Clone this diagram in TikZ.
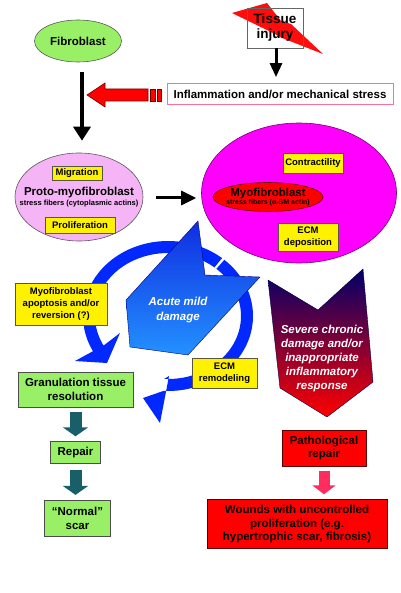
\documentclass[tikz,border=0pt]{standalone}
\usepackage{fontspec}
\setmainfont{Liberation Sans}
\usepackage{tikz}
\usetikzlibrary{arrows,arrows.meta,%
                shapes,positioning}
\definecolor{fibgreen}{RGB}{153,240,102}
\definecolor{protopink}{RGB}{245,180,245}
\definecolor{myomagenta}{RGB}{255,0,255}
\definecolor{infpink}{RGB}{255,110,150}
\definecolor{ringblue}{RGB}{0,40,255}
\definecolor{darkteal}{RGB}{25,95,105}
\definecolor{arrowpink}{RGB}{255,45,95}
\definecolor{navy}{RGB}{0,0,105}
\definecolor{plum}{RGB}{165,10,115}

\begin{document}
\begin{tikzpicture}[x = 1pt, y = -1pt]
  \useasboundingbox (0,0) rectangle (400,593);
  \tikzset{CellStyle/.style   = {shape          = ellipse,
                                 draw           = gray!70!black,
                                 line width     = 0.6pt,
                                 inner sep      = 0pt}}
  \tikzset{BoxStyle/.style    = {shape          = rectangle,
                                 draw           = gray!60!black,
                                 line width     = 0.6pt,
                                 inner sep      = 0pt,
                                 align          = center,
                                 font           = \fontsize{11.5}{13.5}\selectfont\bfseries}}
  \tikzset{YellowStyle/.style = {BoxStyle,
                                 fill           = yellow,
                                 draw           = yellow!25!black,
                                 font           = \fontsize{9.5}{11.7}\selectfont\bfseries}}
  \tikzset{GreenStyle/.style  = {BoxStyle,
                                 fill           = fibgreen}}
  \tikzset{RedStyle/.style    = {BoxStyle,
                                 fill           = red,
                                 draw           = red!35!black}}
  \tikzset{TextStyle/.style   = {align          = center,
                                 inner sep      = 0pt,
                                 font           = \fontsize{11.5}{13.5}\selectfont\bfseries}}
  \tikzset{ArrowStyle/.style  = {line width     = 3.5pt,
                                 -{Triangle[length=14pt, width=17pt]}}}
  \tikzset{BlockStyle/.style  = {line width     = 12pt,
                                 -{Triangle[length=9pt, width=25pt]}}}
  \tikzset{StripeStyle/.style = {fill           = red,
                                 draw           = red!45!black,
                                 line width     = 0.6pt}}
  % top: injury and stress
     \fill[red!95!white] (232,13) -- (267,3) -- (281,21) -- (291,24) -- (323,54)
                         -- (282,38) -- (273,33) -- cycle;
     \node[draw = gray!80!black, line width = 0.8pt, minimum width = 56pt,
           minimum height = 40pt, inner sep = 0pt, align = center,
           font = \fontsize{13.5}{15}\selectfont\bfseries] (injury) at (275,28) {Tissue\\injury};
     \node[BoxStyle, draw = infpink, line width = 0.8pt, minimum width = 226pt,
           minimum height = 21pt] (infl) at (280,94) {Inflammation and/or mechanical stress};
     \node[CellStyle, fill = fibgreen, minimum width = 87pt, minimum height = 42pt,
           font = \fontsize{11.5}{13.5}\selectfont\bfseries] (fib) at (78,41) {Fibroblast};
  % proto-myofibroblast
     \node[CellStyle, fill = protopink, minimum width = 128pt, minimum height = 88pt] (proto) at (79,197) {};
     \node[TextStyle] (protolbl) at (proto.center)
          {Proto-myofibroblast\\[-3.5pt]{\fontsize{7.5}{8}\selectfont stress fibers (cytoplasmic actins)}};
     \node[YellowStyle, minimum width = 50pt, minimum height = 14pt] (migr) at (77,173.5) {Migration};
     \node[YellowStyle, minimum width = 70pt, minimum height = 16pt] (prolif) at (80,225) {Proliferation};
  % myofibroblast
     \node[CellStyle, fill = myomagenta, draw = myomagenta!45!black, minimum width = 195pt,
           minimum height = 140pt] (myo) at (299,193) {};
     \node[CellStyle, fill = red, draw = red!40!black, minimum width = 110pt,
           minimum height = 29pt] (myoin) at (268,197) {};
     \node[TextStyle] (myolbl) at (myoin.center)
          {Myofibroblast\\[-5pt]{\fontsize{7}{7.5}\selectfont stress fibers (α-SM actin)}};
     \node[YellowStyle, minimum width = 60pt, minimum height = 20pt] (contr) at (313,163) {Contractility};
     \node[YellowStyle, minimum width = 60pt, minimum height = 28pt] (ecmdep) at (308,237) {ECM\\deposition};
  % ring round the acute damage
     \coordinate (ringc) at (168,316);
     \fill[ringblue] (ringc) ++(-50.5:85 and 75)
          arc[start angle = -50.5, end angle = -208, x radius = 85, y radius = 75]
          -- (75,361) -- (107,363) -- (120,333)
          -- ([shift = {(-208:73 and 63)}]ringc)
          arc[start angle = -208, end angle = -50.5, x radius = 73, y radius = 63] -- cycle;
     \fill[ringblue] (ringc) ++(-48.5:85 and 75)
          arc[start angle = -48.5, end angle = 93, x radius = 85, y radius = 75]
          -- (143,398) -- (160,423) -- (169,376)
          -- ([shift = {(93:73 and 63)}]ringc)
          arc[start angle = 93, end angle = -48.5, x radius = 73, y radius = 63] -- cycle;
     \draw[top color = {rgb,255:red,15;green,45;blue,225}, bottom color = {rgb,255:red,35;green,145;blue,255},
           draw = blue!50!black, line width = 0.4pt]
          (198,221) -- (205,275) -- (260,277) -- (188,355) -- (130,347) -- (126,300) -- cycle;
     \node[TextStyle, text = white, font = \fontsize{11.5}{15}\selectfont\bfseries\itshape]
          (acute) at (178,310) {Acute mild\\damage};
  % severe damage
     \draw[top color = navy, middle color = plum, bottom color = red, draw = navy!70!black,
           line width = 0.4pt]
          (268,280) -- (318,310) -- (363,269) -- (373,382) -- (327,417) -- (280,388) -- cycle;
     \node[TextStyle, text = white, font = \fontsize{11.5}{14}\selectfont\bfseries\itshape]
          (severe) at (322,359) {Severe chronic\\damage and/or\\inappropriate\\inflammatory\\response};
  % outcomes
     \node[YellowStyle, minimum width = 92pt, minimum height = 42pt] (apop) at (61,304)
          {Myofibroblast\\apoptosis and/or\\reversion (?)};
     \node[YellowStyle, minimum width = 65pt, minimum height = 30pt] (ecmrem) at (224.5,373) {ECM\\remodeling};
     \node[GreenStyle, minimum width = 115pt, minimum height = 35pt] (gran) at (75.5,389.5)
          {Granulation tissue\\resolution};
     \node[GreenStyle, below = 34pt of gran, minimum width = 50pt, minimum height = 22pt] (repair) {Repair};
     \node[GreenStyle, below = 36pt of repair, xshift = 2pt, minimum width = 66pt,
           minimum height = 36pt] (normal) {“Normal”\\scar};
     \node[RedStyle, minimum width = 84pt, minimum height = 36pt] (patho) at (324,448) {Pathological\\repair};
     \node[RedStyle, below = 33pt of patho, xshift = -27pt, minimum width = 180pt,
           minimum height = 49pt] (wounds)
          {Wounds with uncontrolled\\proliferation (e.g.\\hypertrophic scar, fibrosis)};
  % connectors
     \coordinate (hit) at (87,95);
     \draw[ArrowStyle, shorten <= 10pt, shorten >= 12pt] ([xshift = 4pt]fib.south) -- ([xshift = 3pt]proto.north);
     \draw[line width = 3pt, -{Triangle[length=14pt, width=12pt]}, shorten >= 6pt]
          ([xshift = 1pt]injury.south) -- ([xshift = 1pt]injury.south |- infl.north);
     \draw[StripeStyle] (hit) -- ++(18,-12) -- ++(0,6) -- ++(43,0) -- ++(0,12) -- ++(-43,0)
          -- ++(0,6) -- cycle;
     \draw[StripeStyle] ([xshift = -16pt]infl.west) ++(0,-5) rectangle ++(5,12);
     \draw[StripeStyle] ([xshift = -9pt]infl.west) ++(0,-5) rectangle ++(4,12);
     \draw[ArrowStyle, line width = 3pt, -{Triangle[length=15pt, width=14pt]},
           shorten <= 13pt, shorten >= 5pt] ([yshift = -1pt]proto.east) -- ([yshift = -1pt]proto.east -| myo.west);
     \draw[BlockStyle, darkteal, shorten <= 5pt, shorten >= 5pt] (repair.north |- gran.south) -- (repair.north);
     \draw[BlockStyle, darkteal, shorten <= 6pt, shorten >= 5pt] (repair.south) -- (repair.south |- normal.north);
     \draw[BlockStyle, arrowpink, line width = 11pt, -{Triangle[length=9pt, width=23pt]},
           shorten <= 5pt, shorten >= 5pt] (patho.south) -- (patho.south |- wounds.north);
  \end{tikzpicture}
\end{document}
